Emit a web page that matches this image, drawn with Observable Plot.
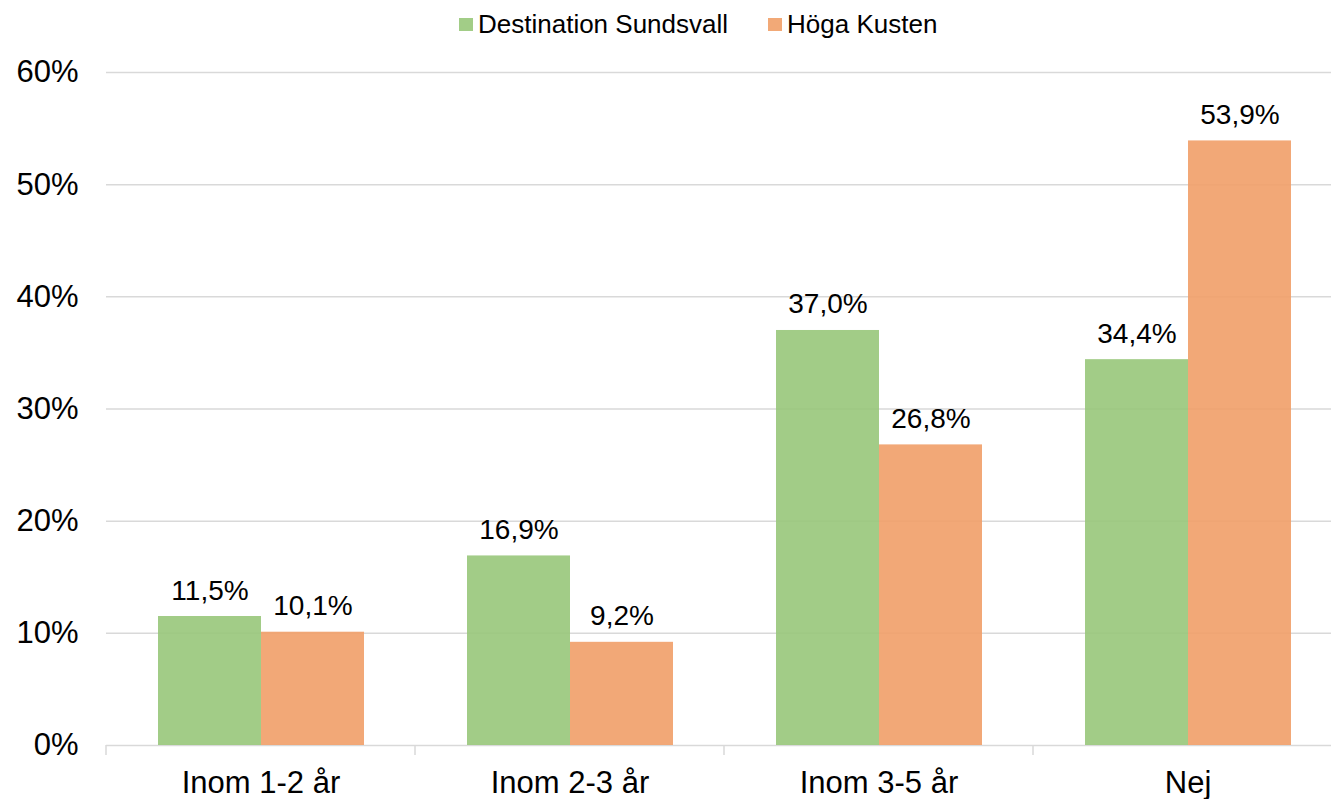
<!DOCTYPE html>
<html>
<head>
<meta charset="utf-8">
<script src="https://cdn.jsdelivr.net/npm/d3@7"></script>
<script src="https://cdn.jsdelivr.net/npm/@observablehq/plot@0.6"></script>
<style>
  html, body { margin: 0; padding: 0; background: #fff; }
  body { width: 1331px; height: 799px; overflow: hidden; font-family: "Liberation Sans", Arial, sans-serif; }
  #legend { height: 48px; display: flex; align-items: center; padding-left: 459px; font-size: 26px; color: #000; }
  .item { display: flex; align-items: center; margin-right: 40px; }
  .sw { width: 14px; height: 13px; margin-right: 5px; }
</style>
</head>
<body>
<div id="legend"></div>
<div id="chart"></div>
<script>
const categories = ["Inom 1-2 år", "Inom 2-3 år", "Inom 3-5 år", "Nej"];
const seriesNames = ["Destination Sundsvall", "Höga Kusten"];
const sundsvall = [11.5, 16.9, 37.0, 34.4];
const hogaKusten = [10.1, 9.2, 26.8, 53.9];
const colors = ["#98c77a", "#f19f68"];
const legendColors = ["#a2cd87", "#f2a977"];
const yTicks = [0, 10, 20, 30, 40, 50, 60];

const data = [];
categories.forEach((c, i) => {
  data.push({cat: c, series: seriesNames[0], value: sundsvall[i]});
  data.push({cat: c, series: seriesNames[1], value: hogaKusten[i]});
});

const legend = d3.select("#legend");
seriesNames.forEach((s, i) => {
  const it = legend.append("div").attr("class", "item");
  it.append("div").attr("class", "sw").style("background", legendColors[i]);
  it.append("span").text(s);
});

const fmt = v => v.toFixed(1).replace(".", ",") + "%";

const chart = Plot.plot({
  width: 1331,
  height: 751,
  marginLeft: 106,
  marginRight: -11,
  marginTop: 24,
  marginBottom: 54,
  style: {fontFamily: "'Liberation Sans', Arial, sans-serif", background: "#fff", color: "#000", overflow: "visible"},
  fx: {domain: categories, padding: 0, label: null},
  x: {domain: seriesNames, paddingInner: 0, paddingOuter: 0.5, axis: null},
  y: {domain: [0, 60], label: null, axis: null},
  color: {domain: seriesNames, range: colors},
  marks: [
    Plot.gridY(yTicks.filter(d => d > 0), {stroke: "#d9d9d9", strokeOpacity: 1, strokeWidth: 1.5}),
    Plot.ruleY([0], {stroke: "#d9d9d9", strokeWidth: 1.5}),
    Plot.barY(data, {fx: "cat", x: "series", y: "value", fill: "series", fillOpacity: 0.9}),
    Plot.text(data, {fx: "cat", x: "series", y: "value", text: d => fmt(d.value), dy: -17, lineAnchor: "bottom", fontSize: 28, fill: "#000"}),
    Plot.axisY({ticks: yTicks, tickFormat: d => d + "%", tickSize: 0, tickPadding: 28, fontSize: 31, label: null, fill: "#000"}),
    Plot.axisFx({anchor: "bottom", tickSize: 0, tickPadding: 25, fontSize: 31, label: null, fill: "#000"})
  ]
});
document.getElementById("chart").appendChild(chart);

// band-boundary tick marks on the category axis, from Plot's own scales
const svg = d3.select(chart.tagName.toLowerCase() === "svg" ? chart : chart.querySelector("svg"));
const fxS = chart.scale("fx");
const yS = chart.scale("y");
const y0 = yS.apply(0);
const bounds = categories.map(c => fxS.apply(c)).concat([fxS.apply(categories[categories.length - 1]) + fxS.step]);
svg.append("g").selectAll("line").data(bounds).join("line")
  .attr("x1", d => d).attr("x2", d => d)
  .attr("y1", y0).attr("y2", y0 + 10)
  .attr("stroke", "#d9d9d9").attr("stroke-width", 1.5);
</script>
</body>
</html>
